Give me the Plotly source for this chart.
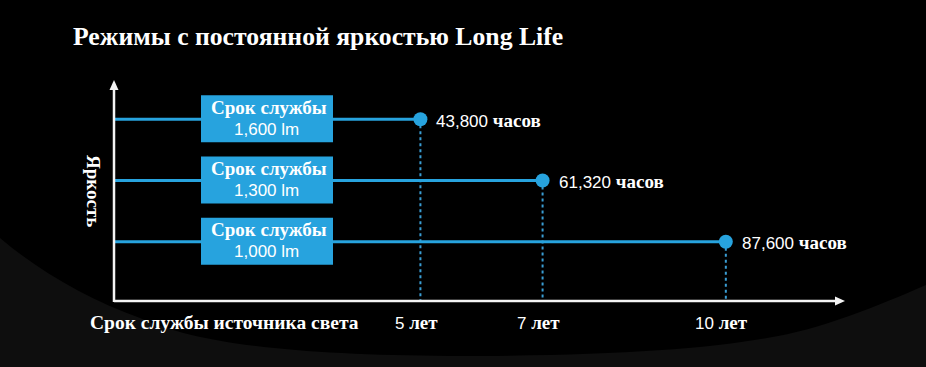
import plotly.graph_objects as go

# ---------------- data ----------------
years = [5, 7, 10]
hours = [43800, 61320, 87600]
lumens = [1600, 1300, 1000]
tick_years = [5, 7, 10]
tick_numbers = ["5", "7", "10"]
tick_unit = "лет"
hours_unit = "часов"
lumen_unit = "lm"
box_title = "Срок службы"
title = "Режимы с постоянной яркостью Long Life"
y_title = "Яркость"
x_title = "Срок службы источника света"

# ---------------- layout constants ----------------
W, H = 926, 367
L, R, T, B = 115, 78, 80, 66
PW = W - L - R
PH = H - T - B
X_RANGE = [0, 12]
Y_RANGE = [709.3, 1792.6]

BLUE = "#27a3de"
DOT_BLUE = "#3a9dd3"
WHITE = "#f4f4f4"
SERIF = "Liberation Serif"
SANS = "Liberation Sans"


def px(x):
    return (x - L) / PW


def py(y):
    return (H - B - y) / PH


def path(points, close=True):
    s = ""
    for p in points:
        cmd = p[0]
        coords = p[1:]
        vals = []
        for j in range(0, len(coords), 2):
            vals.append(f"{px(coords[j]):.5f},{py(coords[j+1]):.5f}")
        s += cmd + " " + " ".join(vals) + " "
    return s + ("Z" if close else "")


def unit_span(word, size):
    return f"<span style='font-family:{SERIF};font-size:{size}px'><b>{word}</b></span>"


fig = go.Figure()

# dotted drop lines
for yr, lm in zip(years, lumens):
    fig.add_trace(go.Scatter(x=[yr, yr], y=[lm, Y_RANGE[0]], mode="lines",
                             line=dict(color=DOT_BLUE, width=2, dash="dot"),
                             hoverinfo="skip", showlegend=False))
# horizontal level lines
for yr, lm in zip(years, lumens):
    fig.add_trace(go.Scatter(x=[0, yr], y=[lm, lm], mode="lines",
                             line=dict(color=BLUE, width=3),
                             hoverinfo="skip", showlegend=False))
# end markers
fig.add_trace(go.Scatter(x=years, y=lumens, mode="markers",
                         marker=dict(color=BLUE, size=14, line=dict(width=0)),
                         hoverinfo="skip", showlegend=False))

shapes = []
annotations = []

# background swoosh (black area over dark grey paper)
shapes.append(dict(type="path", xref="paper", yref="paper", layer="below",
                   fillcolor="#000000", line=dict(width=0),
                   path=path([("M", 0, 0), ("L", 926, 0), ("L", 926, 285),
                              ("C", 880, 305, 820, 330, 767, 338),
                              ("C", 700, 350, 600, 356, 450, 356),
                              ("C", 300, 355, 200, 345, 140, 318),
                              ("C", 90, 300, 40, 272, 0, 238)])))

# axes with arrows
shapes.append(dict(type="line", xref="paper", yref="paper", x0=px(114), x1=px(836),
                   y0=py(301), y1=py(301), line=dict(color=WHITE, width=2.5)))
shapes.append(dict(type="path", xref="paper", yref="paper", fillcolor=WHITE,
                   line=dict(width=0),
                   path=path([("M", 835, 296.5), ("L", 845, 301), ("L", 835, 305.5)])))
shapes.append(dict(type="line", xref="paper", yref="paper", x0=px(114), x1=px(114),
                   y0=py(302), y1=py(89), line=dict(color=WHITE, width=2.5)))
shapes.append(dict(type="path", xref="paper", yref="paper", fillcolor=WHITE,
                   line=dict(width=0),
                   path=path([("M", 109.5, 90), ("L", 114, 80), ("L", 118.5, 90)])))

# label boxes
for lm in lumens:
    shapes.append(dict(type="rect", layer="above", xref="x", yref="y",
                       xsizemode="pixel", xanchor=0, x0=86, x1=218,
                       ysizemode="pixel", yanchor=lm, y0=-23, y1=24,
                       fillcolor=BLUE, line=dict(width=0)))
    annotations.append(dict(xref="x", yref="y", x=0, y=lm, xshift=154, yshift=12,
                            xanchor="center", yanchor="middle",
                            text=f"<b>{box_title}</b>", showarrow=False,
                            font=dict(family=SERIF, size=19, color="white")))
    annotations.append(dict(xref="x", yref="y", x=0, y=lm, xshift=151, yshift=-10,
                            xanchor="center", yanchor="middle",
                            text=f"{lm:,} {lumen_unit}", showarrow=False,
                            font=dict(family=SANS, size=17, color="white")))

# value labels
for yr, lm, h in zip(years, lumens, hours):
    annotations.append(dict(xref="x", yref="y", x=yr, y=lm, xanchor="left",
                            yanchor="middle", xshift=14, yshift=-1, showarrow=False,
                            text=f"{h:,} " + unit_span(hours_unit, 19),
                            font=dict(family=SANS, size=17, color="white")))

# tick labels
for yr, num in zip(tick_years, tick_numbers):
    annotations.append(dict(xref="x", yref="paper", x=yr, y=py(322), xshift=-4,
                            xanchor="center", yanchor="middle", showarrow=False,
                            text=f"{num} " + unit_span(tick_unit, 19),
                            font=dict(family=SANS, size=17, color="white")))

# axis titles and title
annotations.append(dict(xref="paper", yref="paper", x=px(88), y=py(322), xanchor="left",
                        yanchor="middle", showarrow=False, text=f"<b>{x_title}</b>",
                        font=dict(family=SERIF, size=19.5, color="white")))
annotations.append(dict(xref="paper", yref="paper", x=px(94), y=py(191), textangle=90,
                        xanchor="center", yanchor="middle",
                        showarrow=False, text=f"<b>{y_title}</b>",
                        font=dict(family=SERIF, size=19, color="white")))
annotations.append(dict(xref="paper", yref="paper", x=px(71), y=py(36), xanchor="left",
                        yanchor="middle", showarrow=False, text=f"<b>{title}</b>",
                        font=dict(family=SERIF, size=25.7, color="white")))

fig.update_layout(
    width=W, height=H, margin=dict(l=L, r=R, t=T, b=B, pad=0),
    paper_bgcolor="#0e0e0e", plot_bgcolor="rgba(0,0,0,0)",
    xaxis=dict(range=X_RANGE, showgrid=False, zeroline=False, showline=False,
               showticklabels=False, ticks="", fixedrange=True),
    yaxis=dict(range=Y_RANGE, showgrid=False, zeroline=False, showline=False,
               showticklabels=False, ticks="", fixedrange=True),
    shapes=shapes, annotations=annotations, showlegend=False,
)

fig.write_html("out.html", config={"displayModeBar": False})
